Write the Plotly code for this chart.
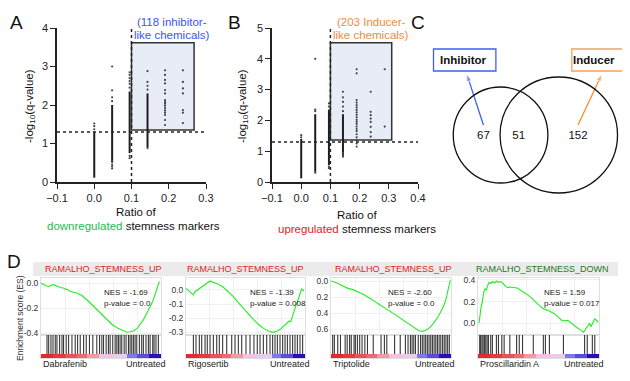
import plotly.graph_objects as go

# the page puts the plot 8px in from the top-left corner, so work in page pixels
OFF = 8
W, H = 630 - OFF, 381 - OFF
FONT = "Liberation Sans, Arial, sans-serif"

# ---------------- A: inhibitor screen ----------------
a_strip_x = [0.0, 0.048, 0.095, 0.143]
a_strip_lo = [0.13, 0.5, 0.75, 0.9]
a_strip_hi = [1.3, 2.0, 2.35, 2.3]
a_col_x = [0.0, 0.048, 0.095, 0.143, 0.19, 0.238]
a_col_y = [
    [0.13, 1.37, 1.45, 1.52],
    [0.35, 0.4, 0.45, 0.55, 2.1, 2.2, 2.38, 3.0],
    [0.62, 0.68, 2.45, 2.55, 2.62, 2.7, 2.78, 2.85],
    [0.88, 2.4, 2.5, 2.6, 2.88],
    [1.48, 1.61, 1.74, 1.8, 1.86, 1.92, 1.98, 2.03, 2.08, 2.13, 2.3, 2.39, 2.56, 2.65, 2.78, 2.9],
    [1.53, 1.8, 1.87, 2.3, 2.43, 2.6, 2.9],
]

# ---------------- B: inducer screen ----------------
b_strip_x = [0.0, 0.048, 0.095, 0.143]
b_strip_lo = [0.12, 0.33, 0.55, 0.85]
b_strip_hi = [1.4, 2.2, 2.35, 2.2]
b_col_x = [0.0, 0.048, 0.095, 0.143, 0.19, 0.238, 0.286]
b_col_y = [
    [1.45, 1.52],
    [0.3, 2.3, 2.35, 4.0],
    [0.45, 0.5, 2.45, 2.55],
    [0.82, 0.9, 0.95, 2.3, 2.45, 2.6, 2.75, 2.93],
    [1.15, 1.25, 1.35, 1.45, 1.55, 1.65, 1.72, 1.8, 1.88, 1.95, 2.02, 2.1, 2.18, 2.26, 2.34, 2.42,
     2.5, 2.58, 2.66, 3.53, 3.66],
    [1.47, 1.62, 1.79, 1.95, 2.06, 2.17, 2.28, 2.93],
    [1.8, 3.66],
]

q_cut = 1.3        # -log10(0.05)
ratio_cut = 0.1
a_box = [0.1, 0.268, 1.35, 3.62]
b_box = [0.1, 0.31, 1.36, 4.52]

# ---------------- C: venn ----------------
venn_counts = [67, 51, 152]

# ---------------- D: GSEA ----------------
gsea_titles = ["RAMALHO_STEMNESS_UP", "RAMALHO_STEMNESS_UP", "RAMALHO_STEMNESS_UP", "RAMALHO_STEMNESS_DOWN"]
gsea_drugs = ["Dabrafenib", "Rigosertib", "Triptolide", "Proscillaridin A"]
gsea_nes = ["-1.69", "-1.39", "-2.60", "1.59"]
gsea_pval = ["0.0", "0.008", "0.0", "0.017"]

p1_rank = [0.0, 0.036, 0.064, 0.078, 0.105, 0.133, 0.161, 0.188, 0.202, 0.216, 0.244, 0.299, 0.341, 0.382,
           0.424, 0.465, 0.507, 0.548, 0.59, 0.632, 0.673, 0.715, 0.742, 0.77, 0.798, 0.825, 0.853, 0.881,
           0.909, 0.931, 0.95, 0.97, 0.986]
p1_es = [0.0, -0.019, -0.027, -0.019, -0.013, -0.027, -0.035, -0.04, -0.05, -0.048, -0.067, -0.08, -0.099,
         -0.133, -0.173, -0.213, -0.253, -0.293, -0.328, -0.355, -0.376, -0.392, -0.387, -0.381, -0.365,
         -0.333, -0.293, -0.24, -0.187, -0.147, -0.093, -0.04, 0.013]
p1_hits = [0.05, 0.064, 0.083, 0.1, 0.119, 0.133, 0.155, 0.175, 0.188, 0.21, 0.23, 0.258, 0.285, 0.305,
           0.327, 0.355, 0.377, 0.404, 0.432, 0.465, 0.488, 0.507, 0.521, 0.543, 0.562, 0.576, 0.598, 0.618,
           0.632, 0.645, 0.659, 0.673, 0.693, 0.709, 0.729, 0.742, 0.756, 0.77, 0.784, 0.798, 0.82, 0.839,
           0.853, 0.875, 0.895, 0.909, 0.931, 0.942, 0.958, 0.978]

p2_rank = [0.0, 0.034, 0.062, 0.076, 0.104, 0.132, 0.16, 0.202, 0.23, 0.272, 0.314, 0.356, 0.398, 0.44,
           0.482, 0.524, 0.566, 0.608, 0.65, 0.692, 0.734, 0.768, 0.796, 0.824, 0.846, 0.868, 0.88, 0.896,
           0.916, 0.936, 0.952, 0.972, 0.992]
p2_es = [0.012, -0.012, -0.035, -0.012, 0.005, 0.017, 0.04, 0.064, 0.054, 0.04, 0.019, -0.012, -0.047,
         -0.09, -0.13, -0.173, -0.208, -0.243, -0.272, -0.291, -0.3, -0.291, -0.277, -0.253, -0.236,
         -0.22, -0.225, -0.177, -0.13, -0.083, -0.047, 0.007, -0.007]
p2_hits = [0.062, 0.084, 0.112, 0.132, 0.16, 0.179, 0.202, 0.23, 0.258, 0.28, 0.308, 0.342, 0.384, 0.412,
           0.44, 0.468, 0.504, 0.538, 0.571, 0.599, 0.622, 0.65, 0.678, 0.706, 0.728, 0.748, 0.768, 0.79,
           0.812, 0.832, 0.852, 0.874, 0.896, 0.916, 0.936, 0.958, 0.98]

p3_rank = [0.0, 0.056, 0.099, 0.141, 0.183, 0.225, 0.268, 0.31, 0.352, 0.394, 0.437, 0.479, 0.521, 0.563,
           0.606, 0.648, 0.69, 0.732, 0.761, 0.789, 0.823, 0.859, 0.896, 0.93, 0.958, 0.98, 0.994]
p3_es = [0.0, -0.029, -0.063, -0.092, -0.108, -0.133, -0.167, -0.204, -0.242, -0.283, -0.325, -0.367,
         -0.408, -0.45, -0.492, -0.538, -0.583, -0.621, -0.629, -0.617, -0.583, -0.521, -0.438, -0.342,
         -0.229, -0.092, 0.012]
p3_hits = [0.014, 0.028, 0.056, 0.079, 0.118, 0.135, 0.155, 0.169, 0.192, 0.203, 0.22, 0.239, 0.259,
           0.282, 0.304, 0.352, 0.417, 0.445, 0.465, 0.53, 0.577, 0.62, 0.642, 0.662, 0.676, 0.69, 0.704,
           0.727, 0.746, 0.761, 0.775, 0.789, 0.803, 0.817, 0.831, 0.845, 0.859, 0.873, 0.887, 0.901,
           0.915, 0.93, 0.944, 0.958, 0.972, 0.986]

p4_rank = [0.008, 0.017, 0.025, 0.036, 0.047, 0.058, 0.069, 0.08, 0.091, 0.105, 0.119, 0.136, 0.152, 0.169,
           0.188, 0.208, 0.23, 0.247, 0.263, 0.285, 0.307, 0.33, 0.352, 0.38, 0.41, 0.44, 0.468, 0.496,
           0.524, 0.557, 0.59, 0.623, 0.651, 0.687, 0.715, 0.742, 0.77, 0.798, 0.825, 0.853, 0.873, 0.889,
           0.909, 0.922, 0.934, 0.95, 0.964, 0.978, 0.994]
p4_es = [0.0, 0.092, 0.145, 0.2, 0.286, 0.317, 0.308, 0.348, 0.378, 0.366, 0.385, 0.372, 0.391, 0.378,
         0.385, 0.366, 0.338, 0.329, 0.335, 0.332, 0.326, 0.323, 0.305, 0.286, 0.262, 0.237, 0.206, 0.169,
         0.145, 0.126, 0.114, 0.092, 0.071, 0.031, 0.022, 0.028, 0.0, -0.022, -0.046, -0.065, -0.083,
         -0.052, -0.022, 0.0, -0.031, 0.003, 0.04, 0.028, 0.009]
p4_hits = [0.014, 0.022, 0.033, 0.042, 0.053, 0.064, 0.075, 0.086, 0.105, 0.119, 0.152, 0.169, 0.197,
           0.216, 0.263, 0.319, 0.341, 0.368, 0.457, 0.54, 0.557, 0.59, 0.706, 0.881, 0.903, 0.945, 0.965]

bar_edges = [0.0, 0.1, 0.2, 0.3, 0.38, 0.48, 0.6, 0.72, 0.8, 0.9, 1.0]
bar_metric = [1.0, 0.9, 0.75, 0.6, 0.3, 0.0, -0.1, -0.55, -0.7, -1.0]

gsea_rank = [p1_rank, p2_rank, p3_rank, p4_rank]
gsea_es = [p1_es, p2_es, p3_es, p4_es]
gsea_hits = [p1_hits, p2_hits, p3_hits, p4_hits]


def px(x):
    return (x - OFF) / W


def py(y):
    return 1 - (y - OFF) / H


fig = go.Figure()


def add_screen(strip_x, lo, hi, col_x, col_y, xa, ya):
    sx, sy = [], []
    for x, a, b in zip(strip_x, lo, hi):
        sx += [x, x, None]
        sy += [a, b, None]
    fig.add_trace(go.Scatter(x=sx, y=sy, mode="lines", line=dict(color="#1e1e1e", width=2),
                             xaxis=xa, yaxis=ya, hoverinfo="skip"))
    dx, dy = [], []
    for x, ys in zip(col_x, col_y):
        dx += [x] * len(ys)
        dy += ys
    fig.add_trace(go.Scatter(x=dx, y=dy, mode="markers", marker=dict(size=2.2, color="#444"),
                             xaxis=xa, yaxis=ya, hoverinfo="skip"))


add_screen(a_strip_x, a_strip_lo, a_strip_hi, a_col_x, a_col_y, "x", "y")
add_screen(b_strip_x, b_strip_lo, b_strip_hi, b_col_x, b_col_y, "x2", "y2")

# venn counts
fig.add_trace(go.Scatter(x=[481, 515, 572], y=[136, 136, 136], mode="text",
                         text=[str(v) for v in venn_counts],
                         textfont=dict(size=11.5, color="#111", family=FONT),
                         xaxis="x3", yaxis="y3", hoverinfo="skip"))
# venn call-out arrows
for (x0, y0, x1, y1), col in [((481, 125, 465, 74), "#3a62f0"), ((572, 125, 595, 74), "#f5902f")]:
    fig.add_trace(go.Scatter(x=[x0, x1], y=[y0, y1], mode="lines+markers",
                             line=dict(color=col, width=1.3),
                             marker=dict(symbol=["circle", "arrow"], size=[0, 8], angleref="previous",
                                         color=col),
                             xaxis="x3", yaxis="y3", hoverinfo="skip"))

# GSEA panels
for i in range(4):
    xa_es, ya_es = "x%d" % (4 + i), "y%d" % (4 + i)
    xa_h, ya_h = "x%d" % (8 + i), "y%d" % (8 + i)
    fig.add_trace(go.Heatmap(x=bar_edges, y=[0, 4], z=[bar_metric], zmin=-1, zmax=1, showscale=False,
                             colorscale=[[0, "#2a0cbf"], [0.12, "#4a3ad8"], [0.25, "#8a86ea"],
                                         [0.4, "#dcd8f3"], [0.5, "#f3c2e3"], [0.65, "#f09aa8"],
                                         [0.8, "#ec6a70"], [1, "#e02a30"]],
                             xaxis=xa_h, yaxis=ya_h, hoverinfo="skip"))
    hx, hy = [], []
    for h in gsea_hits[i]:
        hx += [h, h, None]
        hy += [4, 23, None]
    fig.add_trace(go.Scatter(x=hx, y=hy, mode="lines", line=dict(color="rgba(0,0,0,0.78)", width=1.1),
                             xaxis=xa_h, yaxis=ya_h, hoverinfo="skip"))
    fig.add_trace(go.Scatter(x=gsea_rank[i], y=gsea_es[i], mode="lines",
                             line=dict(color="#22ee22", width=1.1),
                             xaxis=xa_es, yaxis=ya_es, hoverinfo="skip"))

axis_base = dict(showline=True, linecolor="#222", linewidth=1.5, ticks="outside", ticklen=5,
                 tickwidth=1.3, tickcolor="#222", showgrid=False, zeroline=False, automargin=False,
                 tickfont=dict(size=11, color="#222", family=FONT))

layout = dict(
    width=W, height=H, autosize=False, showlegend=False,
    margin=dict(l=0, r=0, t=0, b=0, pad=0, autoexpand=False),
    paper_bgcolor="white", plot_bgcolor="white", font=dict(family=FONT),
    xaxis=dict(axis_base, domain=[px(57), px(206)], range=[-0.1, 0.3], tickvals=[-0.1, 0, 0.1, 0.2, 0.3],
               tickformat=".1f", anchor="y"),
    yaxis=dict(axis_base, domain=[py(182), py(28)], range=[0, 4], tickvals=[0, 1, 2, 3, 4], anchor="x"),
    xaxis2=dict(axis_base, domain=[px(272), px(418)], range=[-0.1, 0.4],
                tickvals=[-0.1, 0, 0.1, 0.2, 0.3, 0.4], tickformat=".1f", anchor="y2"),
    yaxis2=dict(axis_base, domain=[py(182), py(28)], range=[0, 5], tickvals=[0, 1, 2, 3, 4, 5], anchor="x2"),
    xaxis3=dict(domain=[px(420), 1], range=[420, 630 - OFF + OFF], visible=False, anchor="y3",
                automargin=False),
    yaxis3=dict(domain=[py(200), py(40)], range=[200, 40], visible=False, anchor="x3", automargin=False),
)
# x3 spans page pixels 420..630 (right edge of window is paper x = 1 + OFF/W)
layout["xaxis3"]["domain"] = [px(420), 1]
layout["xaxis3"]["range"] = [420, 630 - OFF]

es_x = [(41, 161), (186, 305), (331, 451), (478, 599)]
es_range = [[-0.4135, 0.04], [-0.319, 0.085], [-0.675, 0.0375], [-0.108, 0.418]]
es_ticks = [[0, -0.2, -0.4], [0, -0.1, -0.2, -0.3], [0, -0.2, -0.4, -0.6], [0.4, 0.2, 0.0]]
es_text = [["0.0", "-0.2", "-0.4"], ["0.0", "-0.1", "-0.2", "-0.3"], ["0.0", "0.2", "0.4", "0.6"],
           ["0.4", "0.2", "0.0"]]

for i in range(4):
    x0, x1 = es_x[i]
    frame = dict(showline=True, mirror=True, linecolor="#dedede", linewidth=1, zeroline=False,
                 automargin=False)
    layout["xaxis%d" % (4 + i)] = dict(frame, domain=[px(x0), px(x1)], range=[0, 1], anchor="y%d" % (4 + i),
                                      showgrid=True, gridcolor="#f0f0f0", tickvals=[0.2, 0.4, 0.6, 0.8],
                                      showticklabels=False, ticks="")
    layout["yaxis%d" % (4 + i)] = dict(frame, domain=[py(335), py(278)], range=es_range[i],
                                      anchor="x%d" % (4 + i), showgrid=True, gridcolor="#f0f0f0",
                                      tickvals=es_ticks[i], ticktext=es_text[i], ticks="",
                                      tickfont=dict(size=8.5, color="#333", family=FONT))
    layout["xaxis%d" % (8 + i)] = dict(frame, domain=[px(x0), px(x1)], range=[0, 1], anchor="y%d" % (8 + i),
                                      showgrid=False, showticklabels=False, ticks="")
    layout["yaxis%d" % (8 + i)] = dict(frame, domain=[py(358), py(335)], range=[0, 23],
                                      anchor="x%d" % (8 + i), showgrid=False, showticklabels=False, ticks="")

shapes = []
# thresholds and highlight boxes (A, B)
for xa, ya, box, xmax, ymax in [("x", "y", a_box, 0.3, 4), ("x2", "y2", b_box, 0.4, 5)]:
    shapes.append(dict(type="rect", xref=xa, yref=ya, x0=box[0], x1=box[1], y0=box[2], y1=box[3],
                       fillcolor="#e7ecf7", line=dict(color="#333", width=1.5), layer="below"))
    shapes.append(dict(type="line", xref=xa, yref=ya, x0=-0.1, x1=xmax, y0=q_cut, y1=q_cut,
                       line=dict(color="#222", width=1.5, dash="dot")))
    shapes.append(dict(type="line", xref=xa, yref=ya, x0=ratio_cut, x1=ratio_cut, y0=0, y1=ymax,
                       line=dict(color="#222", width=1.5, dash="dot")))
# venn
shapes.append(dict(type="circle", xref="x3", yref="y3", x0=452, x1=543, y0=87, y1=183,
                   line=dict(color="#111", width=1.3)))
shapes.append(dict(type="circle", xref="x3", yref="y3", x0=497, x1=610, y0=77, y1=193,
                   line=dict(color="#111", width=1.3)))
shapes.append(dict(type="rect", xref="x3", yref="y3", x0=433, x1=493, y0=49, y1=71,
                   line=dict(color="#3a62f0", width=1.3)))
shapes.append(dict(type="rect", xref="x3", yref="y3", x0=566, x1=621, y0=49, y1=71,
                   line=dict(color="#f5a060", width=1.3)))
# GSEA header band
shapes.append(dict(type="rect", xref="paper", yref="paper", x0=px(33), x1=px(618), y0=py(276), y1=py(262),
                   fillcolor="#ebebeb", line=dict(width=0), layer="below"))

ann = []


def text(x, y, s, size=11.5, color="#111", xanchor="center", yanchor="middle", angle=0, bold=False):
    if bold:
        s = "<b>" + s + "</b>"
    ann.append(dict(x=px(x), y=py(y), xref="paper", yref="paper", text=s, showarrow=False,
                    xanchor=xanchor, yanchor=yanchor, textangle=angle,
                    font=dict(size=size, color=color, family=FONT)))


for lab, x, y in [("A", 16, 22), ("B", 234, 22), ("C", 418, 22), ("D", 14, 261)]:
    text(x, y, lab, size=19)

text(30, 106, "-log<sub>10</sub>(q-value)", angle=-90)
text(243, 106, "-log<sub>10</sub>(q-value)", angle=-90)
text(136, 212, "Ratio of")
text(133, 226, "<span style='color:#22bb55'>downregulated</span> stemness markers")
text(357, 215, "Ratio of")
text(357, 229, "<span style='color:#dd2222'>upregulated</span> stemness markers")
text(172, 22, "(118 inhibitor-", color="#3a55f5")
text(172, 35, "like chemicals)", color="#3a55f5")
text(371, 22, "(203 Inducer-", color="#f08a3c")
text(371, 35, "like chemicals)", color="#f08a3c")

text(463, 60, "Inhibitor", size=11.5, bold=True)
text(593.5, 60, "Inducer", size=11.5, bold=True)

text(20, 318, "Enrichment score (ES)", size=8.5, color="#333", angle=-90)
title_cx = [103, 245, 393, 542]
nes_x = [102, 248, 386, 542]
untreated_x = [168, 312, 457, 606]
for i in range(4):
    col = "#1e7a1e" if "DOWN" in gsea_titles[i] else "#dd2222"
    text(title_cx[i], 269, gsea_titles[i], size=9, color=col)
    text(nes_x[i], 292, "NES = " + gsea_nes[i], size=8, color="#222", xanchor="left")
    text(nes_x[i], 303, "p-value = " + gsea_pval[i], size=8, color="#222", xanchor="left")
    text(es_x[i][0], 364, gsea_drugs[i], size=9, color="#222", xanchor="left")
    text(untreated_x[i], 364, "Untreated", size=9, color="#222", xanchor="right")

layout["shapes"] = shapes
layout["annotations"] = ann
fig.update_layout(**layout)
fig.write_html("out.html")
